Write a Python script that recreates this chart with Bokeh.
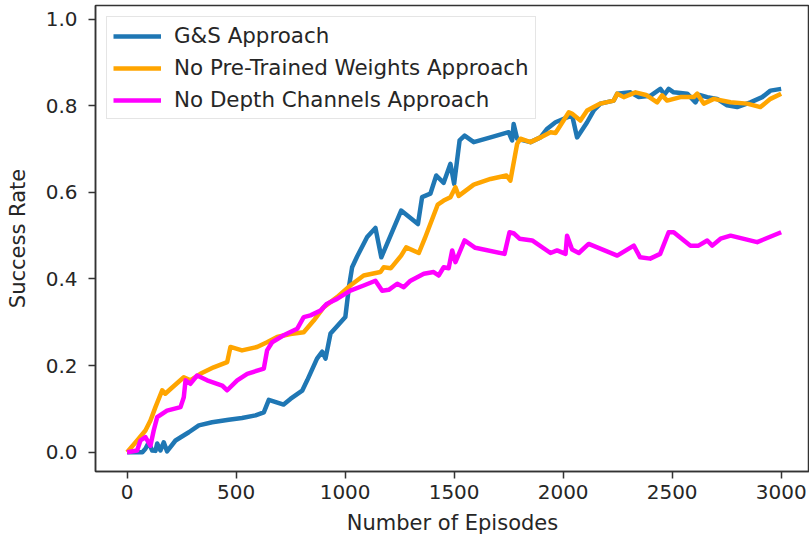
from bokeh.plotting import figure
from bokeh.models import Range1d, FixedTicker, Legend, LegendItem, NumeralTickFormatter
from bokeh.embed import file_html
from bokeh.resources import INLINE

# Success rate per training episode for the three approaches
gs_episodes = [0, 40, 70, 84, 99, 115, 130, 138, 153, 168, 183, 222, 283, 329, 390, 466, 527,
               589, 627, 650, 718, 749, 803, 826, 871, 895, 910, 933, 963, 1001, 1017, 1032,
               1055, 1101, 1139, 1166, 1257, 1334, 1353, 1391, 1418, 1452, 1483, 1500, 1525,
               1548, 1590, 1667, 1750, 1766, 1773, 1789, 1804, 1850, 1896, 1927, 1965, 2003,
               2041, 2064, 2110, 2140, 2171, 2232, 2248, 2309, 2347, 2400, 2446, 2465, 2484,
               2507, 2569, 2607, 2625, 2661, 2706, 2752, 2798, 2859, 2913, 2951, 3000]
gs_success = [0.0, 0.0, 0.0, 0.008, 0.022, 0.004, 0.003, 0.020, 0.004, 0.023, 0.002, 0.027,
              0.046, 0.062, 0.069, 0.075, 0.079, 0.085, 0.092, 0.121, 0.110, 0.123, 0.142,
              0.166, 0.216, 0.232, 0.216, 0.274, 0.291, 0.312, 0.380, 0.427, 0.452, 0.497,
              0.518, 0.450, 0.558, 0.527, 0.589, 0.597, 0.639, 0.622, 0.666, 0.620, 0.720,
              0.731, 0.716, 0.727, 0.739, 0.720, 0.758, 0.724, 0.722, 0.716, 0.727, 0.747,
              0.762, 0.770, 0.778, 0.727, 0.762, 0.789, 0.805, 0.812, 0.828, 0.831, 0.820,
              0.823, 0.839, 0.826, 0.839, 0.831, 0.828, 0.808, 0.825, 0.820, 0.816, 0.801,
              0.797, 0.808, 0.820, 0.835, 0.839]

npw_episodes = [0, 46, 84, 107, 130, 161, 175, 199, 260, 290, 336, 397, 459, 474, 527, 596,
                642, 688, 749, 810, 856, 902, 963, 1024, 1085, 1162, 1177, 1210, 1257, 1280,
                1338, 1365, 1425, 1452, 1483, 1506, 1521, 1590, 1667, 1740, 1758, 1789, 1804,
                1850, 1896, 1942, 1965, 2026, 2040, 2079, 2110, 2140, 2171, 2232, 2248, 2278,
                2332, 2380, 2431, 2454, 2477, 2538, 2599, 2615, 2645, 2691, 2768, 2844, 2905,
                2951, 3000]
npw_success = [0.0, 0.027, 0.050, 0.073, 0.104, 0.143, 0.135, 0.146, 0.173, 0.166, 0.181,
               0.196, 0.208, 0.243, 0.235, 0.243, 0.254, 0.266, 0.273, 0.277, 0.304, 0.335,
               0.358, 0.385, 0.408, 0.416, 0.427, 0.425, 0.454, 0.473, 0.460, 0.493, 0.572,
               0.581, 0.589, 0.612, 0.592, 0.618, 0.631, 0.639, 0.627, 0.712, 0.724, 0.716,
               0.727, 0.739, 0.737, 0.785, 0.782, 0.766, 0.789, 0.797, 0.805, 0.812, 0.828,
               0.820, 0.831, 0.825, 0.808, 0.824, 0.812, 0.820, 0.820, 0.828, 0.805, 0.816,
               0.808, 0.805, 0.797, 0.816, 0.828]

ndc_episodes = [0, 46, 61, 84, 107, 122, 138, 183, 245, 260, 268, 290, 321, 367, 436, 459,
                505, 551, 627, 642, 665, 718, 780, 810, 841, 887, 917, 963, 1024, 1085, 1139,
                1170, 1200, 1239, 1269, 1300, 1361, 1406, 1429, 1452, 1475, 1491, 1506, 1548,
                1597, 1731, 1754, 1775, 1800, 1858, 1942, 1972, 2011, 2018, 2041, 2072, 2117,
                2248, 2324, 2353, 2399, 2445, 2484, 2507, 2584, 2621, 2661, 2684, 2722, 2768,
                2890, 3000]
ndc_success = [0.0, 0.004, 0.027, 0.035, 0.015, 0.050, 0.081, 0.096, 0.104, 0.127, 0.166,
               0.158, 0.177, 0.166, 0.154, 0.143, 0.166, 0.181, 0.193, 0.235, 0.254, 0.270,
               0.285, 0.312, 0.316, 0.327, 0.343, 0.354, 0.373, 0.385, 0.396, 0.373, 0.375,
               0.389, 0.381, 0.396, 0.412, 0.416, 0.408, 0.427, 0.425, 0.466, 0.439, 0.489,
               0.472, 0.458, 0.508, 0.505, 0.493, 0.489, 0.460, 0.466, 0.458, 0.500, 0.468,
               0.460, 0.481, 0.454, 0.477, 0.450, 0.447, 0.458, 0.508, 0.508, 0.477, 0.477,
               0.489, 0.477, 0.493, 0.500, 0.485, 0.508]

series_names = ["G&S Approach", "No Pre-Trained Weights Approach", "No Depth Channels Approach"]
series_colors = ["#1f77b4", "#ffa500", "#ff00ff"]

x_ticks = [0, 500, 1000, 1500, 2000, 2500, 3000]
y_ticks = [0.0, 0.2, 0.4, 0.6, 0.8, 1.0]

FONT = "DejaVu Sans"
TEXT = "#262626"

p = figure(width=809, height=544, output_backend="svg", toolbar_location=None,
           x_range=Range1d(-145, 3130), y_range=Range1d(-0.0446, 1.0316),
           min_border_left=95, min_border_right=0, min_border_top=5, min_border_bottom=73)
p.grid.visible = False
p.outline_line_color = "#333333"
p.outline_line_width = 1.5
p.background_fill_color = "white"
p.border_fill_color = "white"

renderers = []
for xs, ys, color in zip([gs_episodes, npw_episodes, ndc_episodes],
                         [gs_success, npw_success, ndc_success], series_colors):
    r = p.line(xs, ys, line_color=color, line_width=4.5, line_join="round")
    renderers.append(r)

for ax in (p.xaxis[0], p.yaxis[0]):
    ax.axis_line_color = "#333333"
    ax.axis_line_width = 1.5
    ax.major_tick_line_color = "#333333"
    ax.major_tick_line_width = 1.5
    ax.major_tick_out = 7
    ax.major_tick_in = 0
    ax.minor_tick_line_color = None
    ax.major_label_text_font = FONT
    ax.major_label_text_font_size = "20px"
    ax.major_label_text_color = TEXT
    ax.axis_label_text_font = FONT
    ax.axis_label_text_font_size = "21px"
    ax.axis_label_text_font_style = "normal"
    ax.axis_label_text_color = TEXT

p.xaxis.ticker = FixedTicker(ticks=x_ticks)
p.yaxis.ticker = FixedTicker(ticks=y_ticks)
p.yaxis.formatter = NumeralTickFormatter(format="0.0")
p.xaxis.axis_label = "Number of Episodes"
p.yaxis.axis_label = "Success Rate"
p.xaxis.major_label_standoff = 6
p.xaxis.axis_label_standoff = 9
p.yaxis.major_label_standoff = 11
p.yaxis.axis_label_standoff = 13

legend = Legend(items=[LegendItem(label=n, renderers=[r]) for n, r in zip(series_names, renderers)],
                location="top_left", margin=11, padding=6, spacing=7,
                glyph_width=48, glyph_height=22, label_standoff=13,
                label_text_font=FONT, label_text_font_size="21.4px", label_text_color=TEXT,
                border_line_color="#cccccc", border_line_width=1.5,
                background_fill_color="white", background_fill_alpha=0.9)
p.add_layout(legend)

open("out.html", "w").write(file_html(p, INLINE))
